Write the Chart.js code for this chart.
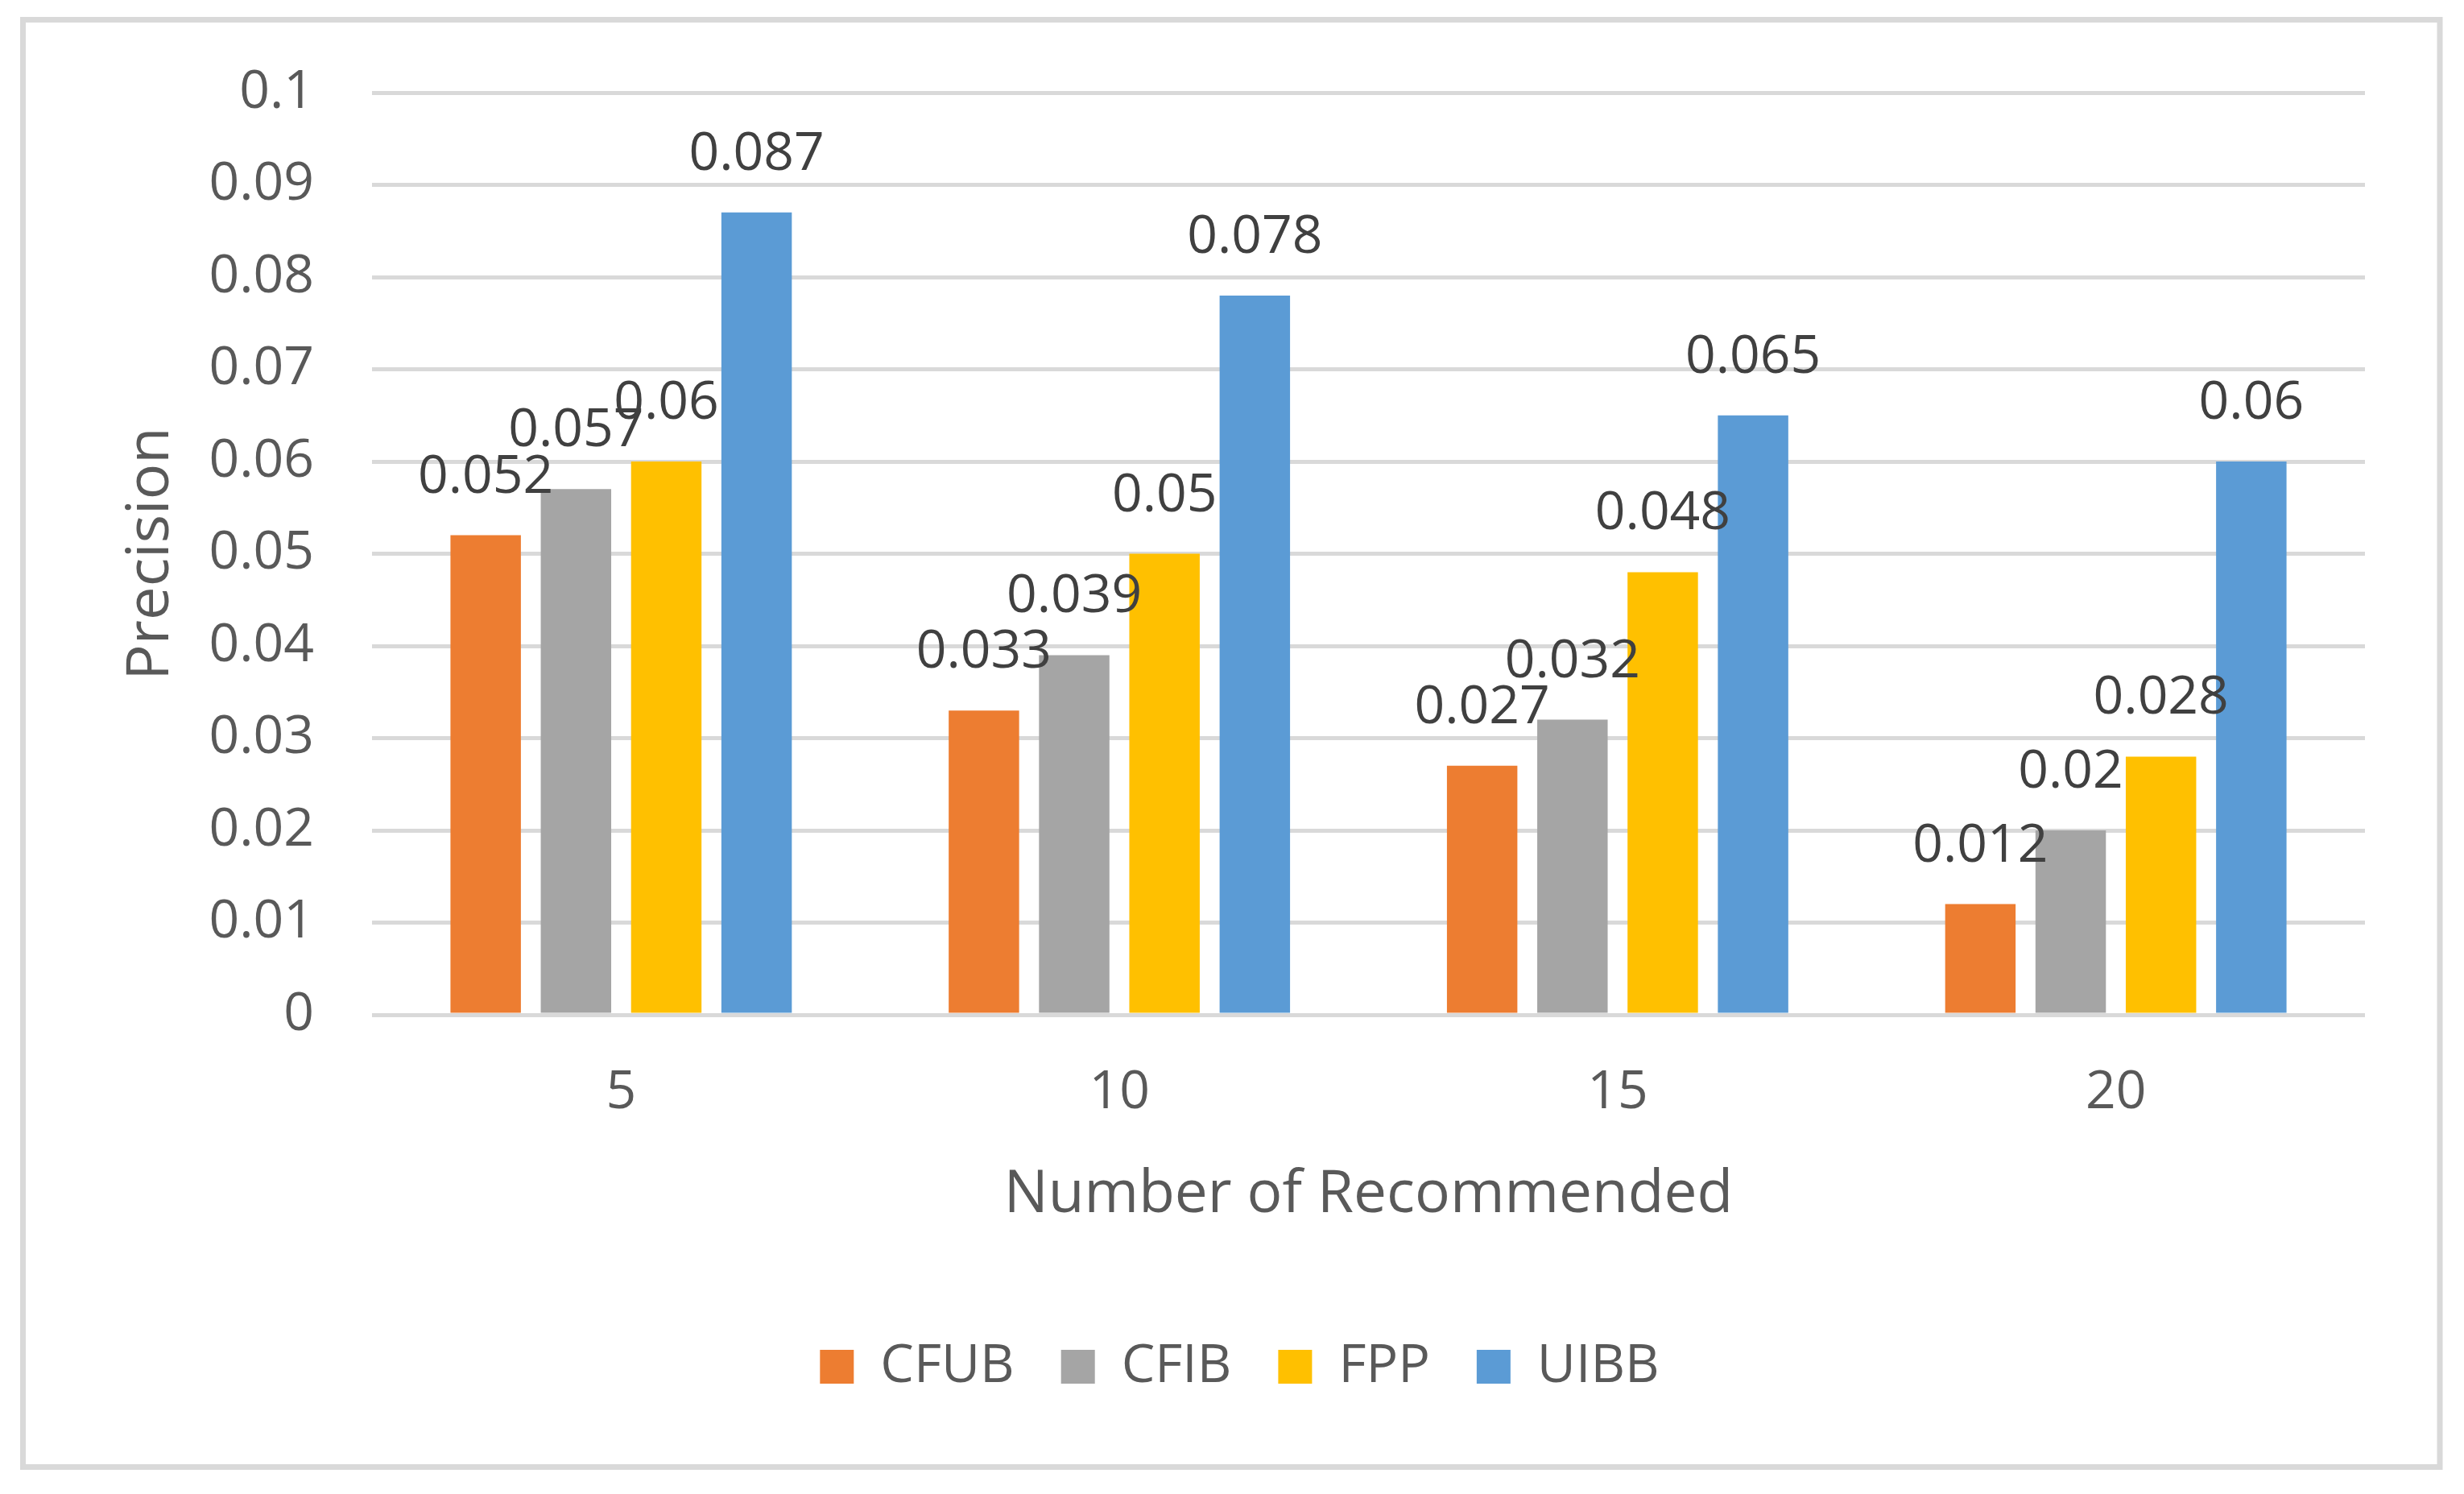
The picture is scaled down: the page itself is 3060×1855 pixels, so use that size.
<!DOCTYPE html>
<html>
<head>
<meta charset="utf-8">
<script src="https://cdn.jsdelivr.net/npm/chart.js@4/dist/chart.umd.min.js"></script>
<style>
  html, body { margin: 0; padding: 0; background: #fff; }
  canvas { display: block; }
</style>
</head>
<body>
<canvas id="precision" width="3060" height="1855"></canvas>
<script>
const categories = [ '5', '10', '15', '20' ]
const cfub = [ 0.052, 0.033, 0.027, 0.012 ]
const cfib = [ 0.057, 0.039, 0.032, 0.02 ]
const fpp = [ 0.06, 0.05, 0.048, 0.028 ]
const uibb = [ 0.087, 0.078, 0.065, 0.06 ]

const FONT = '"Open Sans", "Noto Sans", sans-serif'

// white page plus the light grey frame round the whole chart
const framePlugin = {
  id: 'frame',
  beforeDraw( chart ) {
    const ctx = chart.ctx
    ctx.save()
    ctx.fillStyle = '#ffffff'
    ctx.fillRect( 0, 0, chart.width, chart.height )
    ctx.strokeStyle = '#d9d9d9'
    ctx.lineWidth = 7
    ctx.strokeRect( 28.5, 24.5, 3001.5, 1797 )
    ctx.restore()
  }
}

// value written above every bar
const valueLabels = {
  id: 'valueLabels',
  afterDatasetsDraw( chart ) {
    const ctx = chart.ctx
    ctx.save()
    ctx.font = '66px ' + FONT
    ctx.fillStyle = '#404040'
    ctx.textAlign = 'center'
    ctx.textBaseline = 'alphabetic'
    chart.data.datasets.forEach( ( ds, i ) => {
      chart.getDatasetMeta( i ).data.forEach( ( bar, j ) => {
        ctx.fillText( String( ds.data[ j ] ), bar.x, bar.y - 53 )
      } )
    } )
    ctx.restore()
  }
}

const data = {
  labels: categories,
  datasets: [
    { label: 'CFUB', data: cfub, backgroundColor: '#ED7D31' },
    { label: 'CFIB', data: cfib, backgroundColor: '#A5A5A5' },
    { label: 'FPP', data: fpp, backgroundColor: '#FFC000' },
    { label: 'UIBB', data: uibb, backgroundColor: '#5B9BD5' }
  ]
}

const config = {
  type: 'bar',
  data: data,
  plugins: [ framePlugin, valueLabels ],
  options: {
    responsive: false,
    devicePixelRatio: 1,
    animation: false,
    categoryPercentage: 0.725,
    barPercentage: 0.78,
    layout: { padding: { left: 142, right: 123, top: 115, bottom: 115 } },
    plugins: {
      tooltip: { enabled: false },
      legend: {
        position: 'bottom',
        labels: {
          font: { family: FONT, size: 66 },
          color: '#595959',
          boxWidth: 42,
          boxHeight: 42,
          padding: 58
        }
      }
    },
    scales: {
      x: {
        grid: { display: false, drawTicks: false },
        border: { display: false },
        ticks: { font: { family: FONT, size: 66 }, color: '#595959', padding: 58 },
        title: {
          display: true,
          text: 'Number of Recommended',
          font: { family: FONT, size: 73 },
          color: '#595959',
          padding: { top: 0, bottom: 78 }
        },
        afterFit( scale ) { scale.height = 346 }
      },
      y: {
        min: 0,
        max: 0.1,
        grid: { color: '#d9d9d9', lineWidth: 5, drawTicks: false },
        border: { display: false },
        ticks: {
          stepSize: 0.01,
          font: { family: FONT, size: 66 },
          color: '#595959',
          padding: 72,
          callback: v => String( +v.toFixed( 2 ) )
        },
        title: {
          display: true,
          text: 'Precision',
          font: { family: FONT, size: 74 },
          color: '#595959',
          padding: { top: 2, bottom: 0 }
        },
        afterFit( scale ) { scale.width = 320 }
      }
    }
  }
}

const graph = new Chart( document.getElementById( 'precision' ), config )
</script>
</body>
</html>
